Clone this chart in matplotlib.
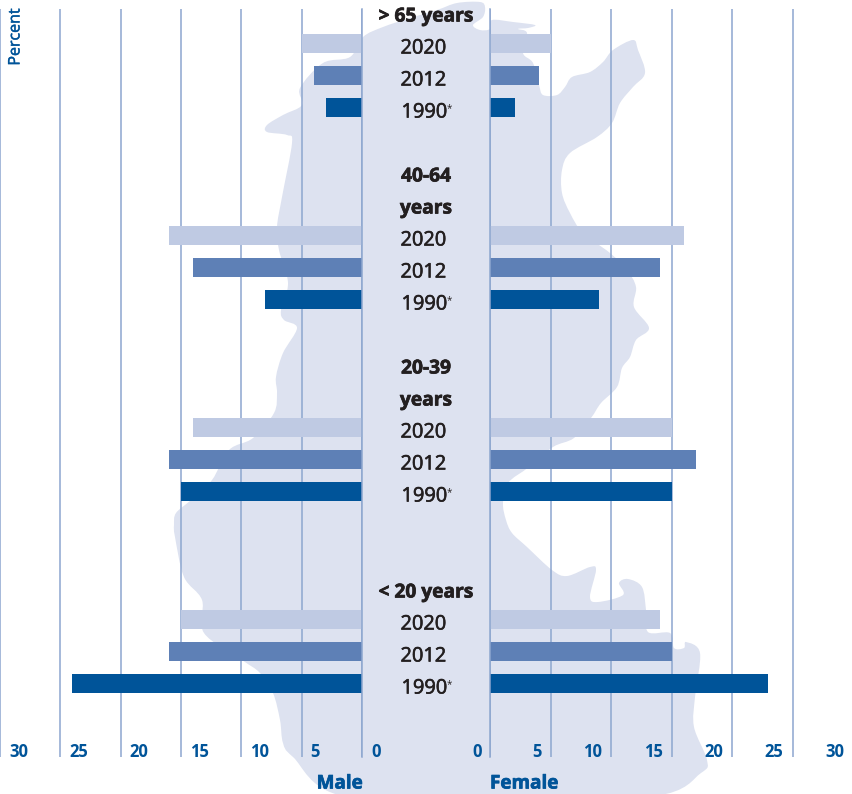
import numpy as np
import matplotlib
matplotlib.use('Agg')
import matplotlib.pyplot as plt
import matplotlib.patheffects as pe
from matplotlib.path import Path
from matplotlib.patches import PathPatch

plt.rcParams['font.family'] = ['Open Sans', 'DejaVu Sans']

age_groups = ['> 65 years', '40-64\nyears', '20-39\nyears', '< 20 years']
years = ['2020', '2012', '1990']
ticks = [0, 5, 10, 15, 20, 25, 30]

male_2020 = [5, 16, 14, 15]
male_2012 = [4, 14, 16, 16]
male_1990 = [3, 8, 15, 24]
female_2020 = [5, 16, 15, 14]
female_2012 = [4, 14, 17, 15]
female_1990 = [2, 9, 15, 23]

colors = ['#bfcae3', '#5e80b6', '#005499']
grid_color = '#8da6cf'
blue = '#005499'
dark = '#231f20'

# outline of the state behind the chart, in pixels of the picture
state = [(363, 37), (383, 27), (410, 18), (437, 10), (457, 3), (480, 2), (485, 7), (483, 17),
         (473, 25), (480, 30), (490, 29), (492, 20), (513, 22), (535, 25), (528, 28), (518, 29),
         (527, 33), (523, 53), (533, 63), (539, 85), (543, 95), (557, 95), (565, 87), (572, 77),
         (590, 72), (603, 62), (613, 50), (633, 40), (638, 50), (645, 73), (633, 87), (620, 103),
         (612, 123), (597, 137), (570, 153), (562, 170), (562, 193), (570, 213), (583, 233),
         (610, 253), (627, 270), (636, 287), (634, 307), (649, 328), (636, 340), (630, 357),
         (622, 368), (617, 387), (601, 403), (591, 418), (574, 438), (553, 447), (529, 467),
         (508, 483), (503, 503), (506, 520), (512, 533), (527, 547), (552, 570), (567, 576),
         (590, 567), (596, 570), (590, 597), (598, 602), (623, 595), (619, 583), (628, 579),
         (642, 587), (646, 610), (648, 632), (670, 633), (674, 648), (684, 648), (686, 642),
         (700, 653), (695, 697), (694, 727), (707, 760), (701, 773), (655, 796), (500, 800),
         (343, 796), (293, 757), (283, 743), (280, 720), (273, 693), (260, 673), (242, 660),
         (204, 633), (202, 600), (184, 577), (175, 537), (174, 525), (176, 513), (191, 500),
         (212, 480), (229, 450), (253, 438), (274, 413), (277, 393), (276, 377), (283, 353),
         (297, 328), (284, 320), (281, 310), (288, 283), (279, 250), (277, 227), (282, 197),
         (292, 143), (287, 135), (267, 132), (267, 125), (283, 115), (302, 105), (300, 88),
         (323, 63), (350, 57)]


def smooth_path(points):
    # closed catmull-rom through the points
    p = np.array(points, dtype=float)
    prev_p = np.roll(p, 1, axis=0)
    next_p = np.roll(p, -1, axis=0)
    next2_p = np.roll(p, -2, axis=0)
    verts = [p[0]]
    codes = [Path.MOVETO]
    for i in range(len(p)):
        verts += [p[i] + (next_p[i] - prev_p[i]) / 6, next_p[i] - (next2_p[i] - p[i]) / 6, next_p[i]]
        codes += [Path.CURVE4] * 3
    return Path(verts, codes)


def heavy(width):
    # thickens the font, Open Sans only comes in regular and bold here
    return [pe.Stroke(linewidth=width), pe.Normal()]


W, H = 852, 794
fig = plt.figure(figsize=(W / 100, H / 100), dpi=100)

bg = fig.add_axes([0, 0, 1, 1])
bg.set_xlim(0, W)
bg.set_ylim(H, 0)
bg.axis('off')
bg.add_patch(PathPatch(smooth_path(state), facecolor='#dde2f0', edgecolor='none'))

# row 0 is the first 2020 bar, rows are 32 px apart
row_top, row_step = 43.5, 32
grid_top, grid_bottom = 8.5, 757
ax_bottom = 1 - grid_bottom / H
ax_height = (grid_bottom - grid_top) / H

left = fig.add_axes([0, ax_bottom, 362 / W, ax_height])
right = fig.add_axes([490.5 / W, ax_bottom, 362.5 / W, ax_height])
left.set_xlim(30, 0)
right.set_xlim(0, 30)

group_rows = [0, 6, 12, 18]
male = [male_2020, male_2012, male_1990]
female = [female_2020, female_2012, female_1990]
for i in range(len(years)):
    rows = [r + i for r in group_rows]
    left.barh(rows, male[i], height=19 / 32, color=colors[i], zorder=3)
    right.barh(rows, female[i], height=19 / 32, color=colors[i], zorder=3)

for ax in [left, right]:
    ax.patch.set_alpha(0)
    ax.set_ylim((grid_bottom - row_top) / row_step, (grid_top - row_top) / row_step)
    ax.set_yticks([])
    for s in ax.spines.values():
        s.set_visible(False)
    ax.set_xticks(ticks)
    ax.set_xticklabels([])
    ax.tick_params(axis='x', length=0)
    ax.grid(axis='x', color=grid_color, lw=1.1, zorder=1)
    ax.set_axisbelow(True)
    ax.axvline(0, color=grid_color, lw=1.1, zorder=4, clip_on=False)

# tick labels sit beside the lines, away from the centre on the left, towards it on the right
for t in ticks:
    left.annotate(str(t), (t, 0), xycoords=left.get_xaxis_transform(), xytext=(6.5, 0),
                  textcoords='offset points', ha='left', va='baseline', color=blue,
                  fontsize=12, fontweight='bold', annotation_clip=False)
    right.annotate(str(t), (t, 0), xycoords=right.get_xaxis_transform(), xytext=(-6.5, 0),
                   textcoords='offset points', ha='right', va='baseline', color=blue,
                   fontsize=12, fontweight='bold', annotation_clip=False)


def baseline(row):
    return row_top + row_step * row + 9.5


for start, group in zip(group_rows, age_groups):
    lines = group.split('\n')
    for j, line in enumerate(lines):
        bg.text(426, baseline(start - len(lines) + j) + 0.5, line, ha='center', va='baseline',
                color=dark, fontsize=13.8, fontweight='bold', path_effects=heavy(0.5))
    for i, year in enumerate(years):
        x = 424.5 if year == '1990' else 423.5
        bg.text(x, baseline(start + i) + 0.5, year, ha='center', va='baseline',
                color=dark, fontsize=14.4, path_effects=heavy(0.45))
    bg.text(449, baseline(start + 2) - 6, '*', ha='center', va='baseline', color=dark, fontsize=7)

bg.text(15.5, 37, 'Percent', rotation=90, ha='center', va='center', color=blue, fontsize=11.5,
        path_effects=heavy(0.3))
bg.text(363, 788.5, 'Male', ha='right', va='baseline', color=blue, fontsize=13.6, fontweight='bold',
        path_effects=heavy(0.5))
bg.text(490, 788.5, 'Female', ha='left', va='baseline', color=blue, fontsize=13.6, fontweight='bold',
        path_effects=heavy(0.5))

fig.savefig('out.png', dpi=100)
